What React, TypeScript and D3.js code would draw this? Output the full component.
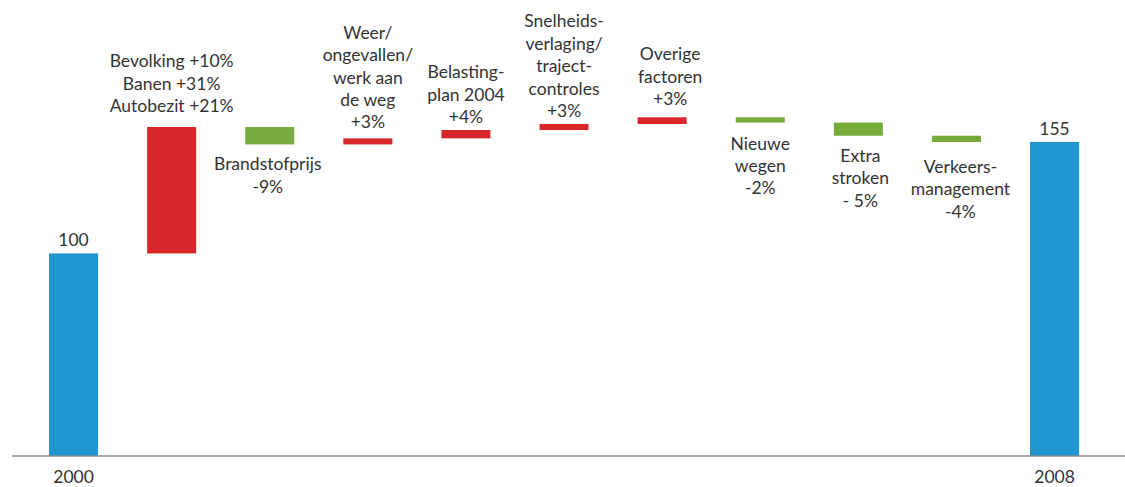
import * as d3 from "d3";

// waterfall: 2000 = 100, 2008 = 155
const STEPS = [
  "2000",
  "Bevolking",
  "Brandstofprijs",
  "Weer",
  "Belasting",
  "Snelheid",
  "Overige",
  "Nieuwe wegen",
  "Extra stroken",
  "Verkeersmanagement",
  "2008",
];

// totals for the first and last step, changes in between
const VALUES = [100, 62.4, -8.6, 3, 4.1, 3, 3.3, -2.6, -6.5, -3.1, 155];

const LABELS: string[][] = [
  ["100"],
  ["Bevolking +10%", "Banen +31%", "Autobezit +21%"],
  ["Brandstofprijs", "-9%"],
  ["Weer/", "ongevallen/", "werk aan", "de weg", "+3%"],
  ["Belasting-", "plan 2004", "+4%"],
  ["Snelheids-", "verlaging/", "traject-", "controles", "+3%"],
  ["Overige", "factoren", "+3%"],
  ["Nieuwe", "wegen", "-2%"],
  ["Extra", "stroken", "- 5%"],
  ["Verkeers-", "management", "-4%"],
  ["155"],
];

const YEARS = ["2000", "2008"];

const W = 1125;
const H = 487;
const BASE = 456;
const LINE = 22.4;
const FONT = "Lato, 'Open Sans', sans-serif";

const COLORS = { total: "#1f95d2", up: "#d8272b", down: "#76ab3d" };

// small hand nudges so labels sit like in the original layout
const GAP_ABOVE: Record<number, number> = { 1: 15, 3: 10, 4: 7, 5: 7, 6: 12 };
const GAP_BELOW: Record<number, number> = { 2: 26, 7: 27, 8: 26, 9: 31 };
const DX: Record<number, number> = { 2: -2, 6: 8, 8: 2, 9: 4 };

type Bar = { key: string; y0: number; y1: number; kind: "total" | "up" | "down"; lines: string[]; i: number };

function buildBars(): Bar[] {
  let run = 0;
  return STEPS.map((key, i) => {
    const last = i === STEPS.length - 1;
    if (i === 0 || last) {
      run = VALUES[i];
      return { key, y0: 0, y1: VALUES[i], kind: "total", lines: LABELS[i], i };
    }
    const from = run;
    run += VALUES[i];
    return {
      key,
      y0: Math.min(from, run),
      y1: Math.max(from, run),
      kind: VALUES[i] >= 0 ? "up" : "down",
      lines: LABELS[i],
      i,
    };
  });
}

export default function App() {
  const bars = buildBars();

  const x = d3
    .scaleBand<string>()
    .domain(STEPS)
    .range([24.5, 1103.6])
    .paddingInner(0.5)
    .paddingOuter(0.25);

  const y = d3.scaleLinear().domain([0, 155]).range([BASE, 142]);

  return (
    <div style={{ position: "absolute", left: 0, top: 0 }}>
      <svg width={W} height={H} style={{ display: "block", background: "#fff" }}>
        {bars.map((b) => (
          <rect
            key={b.key}
            x={x(b.key)}
            y={y(b.y1)}
            width={x.bandwidth()}
            height={y(b.y0) - y(b.y1)}
            fill={COLORS[b.kind]}
          />
        ))}

        <line x1={12} x2={W} y1={BASE} y2={BASE} stroke="#8c8c8c" strokeWidth={1.5} />

        {bars.map((b) => {
          const cx = (x(b.key) ?? 0) + x.bandwidth() / 2 + (DX[b.i] ?? 0);
          let first: number;
          if (b.kind === "total") {
            first = y(b.y1) - 7;
          } else if (b.kind === "up") {
            first = y(b.y1) - (GAP_ABOVE[b.i] ?? 10) - (b.lines.length - 1) * LINE;
          } else {
            first = y(b.y0) + (GAP_BELOW[b.i] ?? 27);
          }
          return (
            <text
              key={"l" + b.key}
              x={cx}
              y={first}
              textAnchor="middle"
              fontFamily={FONT}
              fontSize={17.5}
              fill="#333"
            >
              {b.lines.map((t, j) => (
                <tspan key={j} x={cx} dy={j === 0 ? 0 : LINE}>
                  {t}
                </tspan>
              ))}
            </text>
          );
        })}

        {[STEPS[0], STEPS[STEPS.length - 1]].map((k, j) => (
          <text
            key={"yr" + k}
            x={(x(k) ?? 0) + x.bandwidth() / 2}
            y={BASE + 27}
            textAnchor="middle"
            fontFamily={FONT}
            fontSize={17.5}
            fill="#333"
          >
            {YEARS[j]}
          </text>
        ))}
      </svg>
    </div>
  );
}
